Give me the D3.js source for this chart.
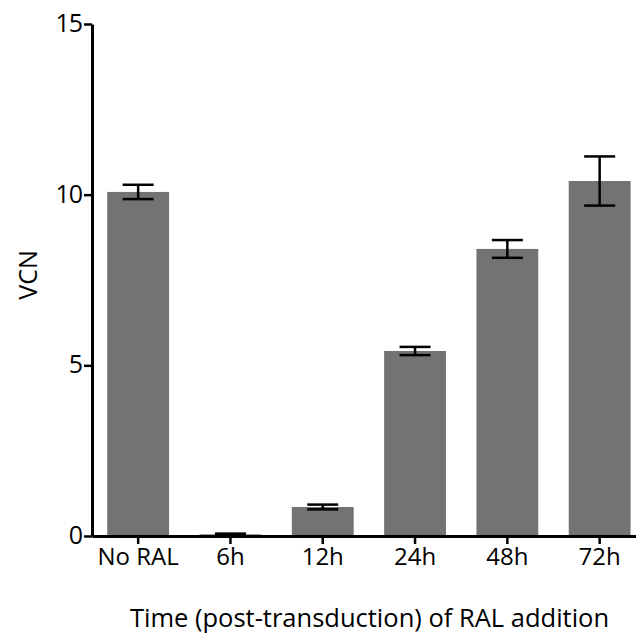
<!DOCTYPE html>
<html><head><meta charset="utf-8">
<script src="https://cdn.jsdelivr.net/npm/d3@7"></script>
<style>body{margin:0;background:#fff}svg{display:block}</style>
</head><body>
<svg id="c" width="636" height="634"></svg>
<script>
const categories = ["No RAL", "6h", "12h", "24h", "48h", "72h"];
const values = [10.08, 0.05, 0.85, 5.42, 8.41, 10.40];
const errors = [0.21, 0.02, 0.07, 0.12, 0.26, 0.72];
const yTicks = [0, 5, 10, 15];
const yLabel = "VCN";
const xLabel = "Time (post-transduction) of RAL addition";

const svg = d3.select("#c");
const font = "'Open Sans', sans-serif";
const x = d3.scaleBand().domain(categories).range([92, 645.8]).paddingInner(0.33).paddingOuter(0.165);
const y = d3.scaleLinear().domain([0, 15]).range([536, 24]);

svg.append("g").selectAll("rect").data(categories).join("rect")
  .attr("x", d => x(d)).attr("width", x.bandwidth())
  .attr("y", (d, i) => y(values[i])).attr("height", (d, i) => y(0) - y(values[i]))
  .attr("fill", "#737373");

const eb = svg.append("g").attr("stroke", "#000").attr("stroke-width", 2.5).attr("fill", "none");
const capW = 31;
categories.forEach((c, i) => {
  const cx = x(c) + x.bandwidth() / 2;
  const top = y(values[i] + errors[i]), bot = y(values[i] - errors[i]);
  eb.append("line").attr("x1", cx).attr("x2", cx).attr("y1", top).attr("y2", bot);
  eb.append("line").attr("x1", cx - capW / 2).attr("x2", cx + capW / 2).attr("y1", top).attr("y2", top);
  eb.append("line").attr("x1", cx - capW / 2).attr("x2", cx + capW / 2).attr("y1", bot).attr("y2", bot);
});

const ya = svg.append("g").attr("transform", "translate(92,0)")
  .call(d3.axisLeft(y).tickValues(yTicks).tickFormat(d3.format("d")).tickSize(8).tickSizeOuter(0).tickPadding(2));
const xa = svg.append("g").attr("transform", "translate(0,536)")
  .call(d3.axisBottom(x).tickSize(8).tickSizeOuter(0).tickPadding(2));
[ya, xa].forEach(a => {
  a.select(".domain").attr("stroke", "#000").attr("stroke-width", 3);
  a.selectAll(".tick line").attr("stroke", "#000").attr("stroke-width", 2.5);
  a.selectAll("text").attr("fill", "#000").style("font-family", font);
});
ya.selectAll("text").style("font-size", "25px").style("letter-spacing", "-1px").attr("dy", "0.3em");
xa.selectAll("text").style("font-size", "24px").attr("dy", "0.78em");

svg.append("text").attr("transform", "translate(37,275) rotate(-90)")
  .attr("text-anchor", "middle").style("font-family", font).style("font-size", "25px").attr("fill", "#000").text(yLabel);
svg.append("text").attr("x", 369.5).attr("y", 627).attr("text-anchor", "middle")
  .style("font-family", font).style("font-size", "25.5px").attr("fill", "#000").text(xLabel);
</script>
</body></html>
